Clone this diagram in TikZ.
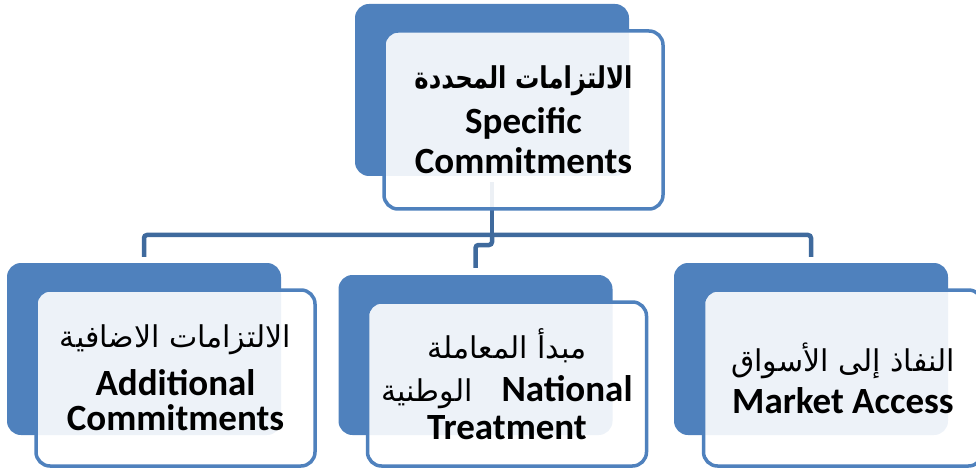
\documentclass[tikz,border=0pt]{standalone}
\usepackage{fontspec}
\setmainfont{Carlito}
\newfontfamily\arabicfont[Script=Arabic]{DejaVu Sans}
\TeXXeTstate=1
\usetikzlibrary{positioning,calc}

\definecolor{boxblue}{RGB}{79,129,189}
\definecolor{linkblue}{RGB}{63,106,157}
\newcommand{\artext}[2][\mdseries]{{\arabicfont#1\fontsize{30}{40}\selectfont\beginR #2\endR}}

\tikzset{
  backbox/.style={fill=boxblue, rounded corners=14pt, inner sep=0pt,
    minimum width=274pt, minimum height=172pt},
  frontbox/.style={draw=boxblue, line width=3.5pt, fill=white, fill opacity=0.9,
    text opacity=1, rounded corners=14pt, inner sep=0pt,
    minimum width=279pt, minimum height=176pt,
    align=center, font=\fontsize{37}{40}\selectfont\bfseries},
  branch/.style={draw=linkblue, line width=4.5pt, rounded corners=3pt}
}

\begin{document}
\begin{tikzpicture}[x=1pt,y=-1pt]
\clip (0,0) rectangle (976,470);
% back plates
\node[backbox] (specbg) at (492,90) {};
\node[backbox] (addlbg) at (144,349) {};
\node[backbox, minimum height=160pt] (natlbg) at (475.5,355) {};
\node[backbox] (mktbg) at (811,349) {};
% tree
\coordinate (hub) at (492,235);
\draw[branch, shorten <=6pt] (specbg.south) -- (hub);
\draw[branch, shorten >=6pt] (hub) -| (addlbg.north);
\draw[branch, shorten >=6pt] (hub) -| (mktbg.north);
\draw[branch, shorten >=7pt] (hub) -- ++(0,10) -| (natlbg.north);
% front cards
\node[frontbox, minimum height=178pt] (spec) at (523.5,120)
  {\scalebox{0.81}[1]{\artext[\bfseries]{الالتزامات المحددة}}\\[5pt] Specific\\ Commitments};
\node[frontbox, font=\fontsize{37}{35}\selectfont\bfseries] (addl) at (175.5,378)
  {\artext{الالتزامات الاضافية}\\[13pt] Additional\\ Commitments};
\node[frontbox, minimum height=164pt, font=\fontsize{37}{38}\selectfont\bfseries] (natl) at (507,384)
  {\artext{مبدأ المعاملة}\\[5pt] \artext{الوطنية}\hspace{29pt}National\\ Treatment};
\node[frontbox] (mkt) at (843,378)
  {\artext{النفاذ إلى الأسواق}\\[2pt] Market Access};
\end{tikzpicture}
\end{document}
